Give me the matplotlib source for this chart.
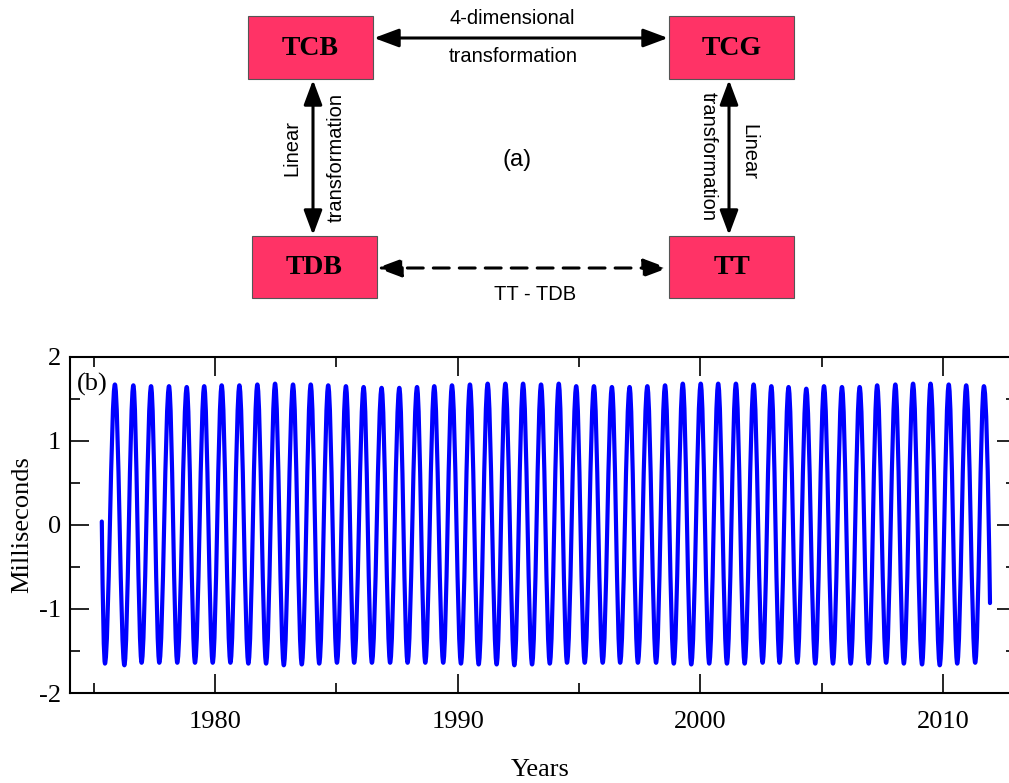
import matplotlib
matplotlib.use('Agg')
import matplotlib.pyplot as plt
from matplotlib.patches import Rectangle, FancyArrowPatch, PathPatch
from matplotlib.path import Path

plt.rcParams['font.family'] = 'serif'
plt.rcParams['font.serif'] = ['Liberation Serif', 'DejaVu Serif']
plt.rcParams['axes.unicode_minus'] = False

# TT - TDB: first point, alternating extrema, last point
start_year, start_ms = 1975.33, 0.04
end_year, end_ms = 2011.93, -0.93

peak_years = [1975.87, 1976.63, 1977.36, 1978.10, 1978.83, 1979.55, 1980.27, 1981.00,
              1981.74, 1982.47, 1983.21, 1983.94, 1984.66, 1985.39, 1986.12, 1986.86,
              1987.59, 1988.32, 1989.03, 1989.76, 1990.50, 1991.23, 1991.96, 1992.69,
              1993.43, 1994.16, 1994.88, 1995.61, 1996.35, 1997.08, 1997.81, 1998.54,
              1999.27, 2000.01, 2000.73, 2001.46, 2002.19, 2002.92, 2003.63, 2004.36,
              2005.09, 2005.83, 2006.56, 2007.28, 2008.03, 2008.76, 2009.48, 2010.23,
              2010.95, 2011.68]
peak_ms = [1.67, 1.66, 1.65, 1.65, 1.64, 1.65, 1.66, 1.66, 1.67, 1.68, 1.67, 1.67,
           1.66, 1.65, 1.64, 1.63, 1.63, 1.64, 1.65, 1.66, 1.67, 1.68, 1.68, 1.68, 1.67,
           1.68, 1.65, 1.65, 1.64, 1.64, 1.65, 1.66, 1.68, 1.68, 1.68, 1.68, 1.67, 1.65,
           1.64, 1.62, 1.65, 1.64, 1.64, 1.66, 1.67, 1.68, 1.68, 1.67, 1.66, 1.65]

trough_years = [1975.46, 1976.26, 1976.97, 1977.70, 1978.44, 1979.17, 1979.90, 1980.63,
                1981.37, 1982.10, 1982.83, 1983.57, 1984.29, 1985.02, 1985.73, 1986.46,
                1987.21, 1987.93, 1988.66, 1989.40, 1990.13, 1990.86, 1991.60, 1992.33,
                1993.06, 1993.79, 1994.50, 1995.23, 1995.97, 1996.69, 1997.42, 1998.17,
                1998.90, 1999.62, 2000.36, 2001.09, 2001.82, 2002.56, 2003.26, 2003.99,
                2004.73, 2005.46, 2006.19, 2006.93, 2007.65, 2008.38, 2009.13, 2009.86,
                2010.58, 2011.32]
trough_ms = [-1.65, -1.67, -1.64, -1.64, -1.64, -1.64, -1.64, -1.64, -1.65, -1.65, -1.67,
             -1.66, -1.65, -1.64, -1.64, -1.64, -1.64, -1.64, -1.64, -1.64, -1.65, -1.66,
             -1.66, -1.67, -1.66, -1.65, -1.64, -1.64, -1.64, -1.64, -1.64, -1.64, -1.65,
             -1.66, -1.65, -1.65, -1.65, -1.64, -1.64, -1.64, -1.65, -1.65, -1.65, -1.65,
             -1.64, -1.65, -1.66, -1.67, -1.65, -1.64]

fig = plt.figure(figsize=(10.09, 7.83), dpi=100)

# ---- (a) diagram, drawn in pixel units of the figure
ax0 = fig.add_axes([0, 0, 1, 1])
ax0.set_xlim(0, 1009)
ax0.set_ylim(783, 0)
ax0.axis('off')

box_color = '#ff3366'
boxes = [('TCB', 248, 16, 125, 63), ('TCG', 669, 16, 125, 63),
         ('TDB', 252, 236, 125, 62), ('TT', 669, 236, 125, 62)]
for name, bx, by, bw, bh in boxes:
    ax0.add_patch(Rectangle((bx, by), bw, bh, facecolor=box_color,
                            edgecolor='#555555', lw=0.8))
    ax0.text(bx + bw / 2, by + bh / 2 + 1, name, ha='center', va='center',
             fontsize=20, fontweight='bold', color='black')

arrow_kw = dict(arrowstyle='<|-|>,head_length=0.75,head_width=0.28',
                mutation_scale=20, color='black', lw=2.2, shrinkA=0, shrinkB=0)
ax0.add_patch(FancyArrowPatch((374, 38), (668, 38), **arrow_kw))
ax0.add_patch(FancyArrowPatch((313, 80), (313, 235), **arrow_kw))
ax0.add_patch(FancyArrowPatch((729, 80), (729, 235), **arrow_kw))
ax0.add_patch(FancyArrowPatch((377, 268), (668, 268), linestyle=(0, (5.2, 3.3)),
                              **arrow_kw))

sans = 'Liberation Sans'
ax0.text(512, 18, '4-dimensional', ha='center', va='center', fontsize=14.5, family=sans)
ax0.text(513, 57, 'transformation', ha='center', va='center', fontsize=14.5, family=sans)
ax0.text(292, 148, 'Linear', ha='center', va='center', rotation=90, fontsize=14.5, family=sans)
ax0.text(336, 157, 'transformation', ha='center', va='center', rotation=90,
         fontsize=14.5, family=sans)
ax0.text(708, 157, 'transformation', ha='center', va='center', rotation=270,
         fontsize=14.5, family=sans)
ax0.text(749, 152, 'Linear', ha='center', va='center', rotation=270, fontsize=14.5, family=sans)
ax0.text(517, 160, '(a)', ha='center', va='center', fontsize=17, family=sans)
ax0.text(535, 295, 'TT - TDB', ha='center', va='center', fontsize=14.5, family=sans)

# ---- (b) TT - TDB curve
ax = fig.add_axes([0.0689, 0.1149, 0.938, 0.4295])

ext = sorted(zip(peak_years + trough_years, peak_ms + trough_ms))
k = 0.36
verts = [(start_year, start_ms)]
codes = [Path.MOVETO]
x0, y0 = ext[0]
verts += [(start_year + 0.5 * (x0 - start_year), y0), (x0, y0)]
codes += [Path.CURVE3, Path.CURVE3]
for (xa, ya), (xb, yb) in zip(ext[:-1], ext[1:]):
    dx = xb - xa
    verts += [(xa + k * dx, ya), (xb - k * dx, yb), (xb, yb)]
    codes += [Path.CURVE4] * 3
xl, yl = ext[-1]
verts += [(xl + 0.5 * (end_year - xl), yl), (end_year, end_ms)]
codes += [Path.CURVE3, Path.CURVE3]
ax.add_patch(PathPatch(Path(verts, codes), fill=False, edgecolor='#0000ff',
                       lw=3.0, capstyle='round', joinstyle='round'))

ax.set_xlim(1974, 2013)
ax.set_ylim(-2, 2)
ax.set_xticks([1980, 1990, 2000, 2010])
ax.set_xticks([1975, 1985, 1995, 2005], minor=True)
ax.set_yticks([-2, -1, 0, 1, 2])
ax.set_yticks([-1.5, -0.5, 0.5, 1.5], minor=True)
ax.tick_params(which='both', direction='in', top=True, right=True, width=1.2,
               labelsize=19)
ax.tick_params(which='major', length=13.5)
ax.tick_params(which='minor', length=7)
ax.tick_params(axis='x', pad=13)
ax.tick_params(axis='y', pad=6)
for s in ax.spines.values():
    s.set_linewidth(1.5)

ax.set_xlabel('Years', fontsize=19, va='center')
ax.xaxis.set_label_coords(0.497, -0.23)
ax.set_ylabel('Milliseconds', fontsize=19, va='center')
ax.yaxis.set_label_coords(-0.0495, 0.5)
ax.text(0.0238, 0.917, '(b)', transform=ax.transAxes, ha='center', va='center', fontsize=19)

plt.savefig('out.png', dpi=100)
